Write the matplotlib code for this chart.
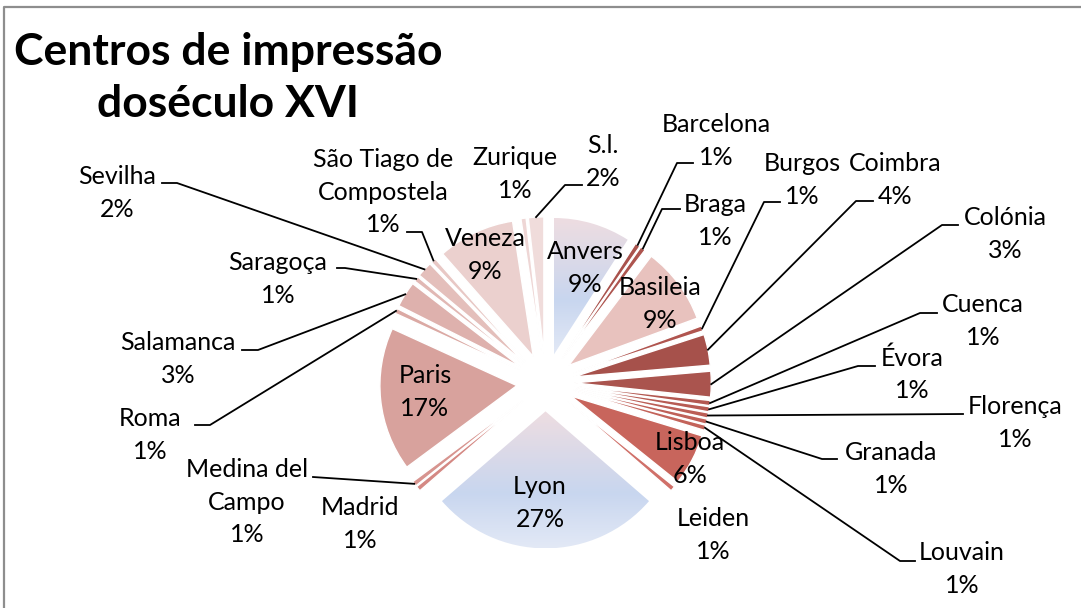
import numpy as np
import matplotlib
matplotlib.use('Agg')
import matplotlib.pyplot as plt
from matplotlib.colors import LinearSegmentedColormap

# data: number of printed works per city (pie order)
cities = ['Anvers', 'Barcelona', 'Braga', 'Basileia', 'Burgos', 'Coimbra', 'Colónia',
          'Cuenca', 'Évora', 'Florença', 'Granada', 'Louvain', 'Lisboa', 'Leiden',
          'Lyon', 'Madrid', 'Medina del\nCampo', 'Paris', 'Roma', 'Salamanca',
          'Saragoça', 'Sevilha', 'São Tiago de\nCompostela', 'Veneza', 'Zurique', 'S.l.']
counts = [15, 1, 1, 15, 1, 6, 5, 1, 1, 1, 1, 1, 10, 1, 45, 1, 1, 28, 1, 5, 1, 3, 1, 15, 1, 3]

colors = ['#d5dcef', '#a9524c', '#ad544e', '#e8c2be', '#b0554f', '#a6514b', '#aa544e',
          '#b35851', '#b75b53', '#bb5e56', '#bf6058', '#c3635a', '#c8655c', '#d07069',
          '#d5dcef', '#d48883', '#d7948f', '#d8a29d', '#dba9a4', '#deb1ad',
          '#e1b8b4', '#e4bfbb', '#e8c8c5', '#ebd0ce', '#eed6d5', '#f0dcdb']
gradient_slices = ['Anvers', 'Lyon']

# label placement in pixels (centre of text block) and leader line points
label_pos = {
    'Anvers': (585, 268), 'Barcelona': (716, 141), 'Braga': (715, 221),
    'Basileia': (660, 304), 'Burgos': (802, 180), 'Coimbra': (895, 180),
    'Colónia': (1005, 234), 'Cuenca': (983, 321), 'Évora': (912, 374),
    'Florença': (1015, 423), 'Granada': (891, 469), 'Louvain': (962, 569),
    'Lisboa': (690, 459), 'Leiden': (713, 535), 'Lyon': (540, 503),
    'Madrid': (360, 524), 'Medina del\nCampo': (247, 502), 'Paris': (425, 392),
    'Roma': (150, 435), 'Salamanca': (178, 359), 'Saragoça': (278, 279),
    'Sevilha': (117, 193), 'São Tiago de\nCompostela': (383, 192),
    'Veneza': (485, 255), 'Zurique': (515, 174), 'S.l.': (603, 162),
}
leaders = {
    'Barcelona': [(693, 163), (677, 163)], 'Braga': [(680, 209), (662, 209)],
    'Burgos': [(780, 202), (764, 202)], 'Coimbra': [(873, 201), (856, 201)],
    'Colónia': [(958, 225), (942, 225)], 'Cuenca': [(937, 313), (920, 313)],
    'Évora': [(875, 366), (858, 366)], 'Florença': [(963, 414)],
    'Granada': [(837, 459), (822, 459)], 'Louvain': [(915, 561), (900, 561)],
    'Medina del\nCampo': [(313, 477)], 'Roma': [(195, 425), (210, 425)],
    'Salamanca': [(242, 350), (258, 350)], 'Saragoça': [(337, 268), (345, 268)],
    'Sevilha': [(162, 183), (177, 183)], 'São Tiago de\nCompostela': [(407, 232), (422, 232)],
    'S.l.': [(582, 185), (565, 185)],
}

W, H = 1081, 608
CX, CY, R = 545.5, 382.6, 137.0   # pie centre and radius in pixels
EXPLODE = 0.21


def px(x, y):
    return ((x - CX) / R, (CY - y) / R)


plt.rcParams['font.family'] = ['Lato', 'DejaVu Sans']

fig = plt.figure(figsize=(W / 100, H / 100), dpi=100)
ax = fig.add_axes([0, 0, 1, 1])

wedges, _ = ax.pie(counts, explode=[EXPLODE] * len(counts), startangle=90,
                   counterclock=False, colors=colors, radius=1,
                   wedgeprops=dict(edgecolor='white', linewidth=1.0))

# gradient fill for Anvers and Lyon (pink top, blue middle, pale bottom)
cmap = LinearSegmentedColormap.from_list('grad', [(0, '#eedde1'), (0.6, '#c8d6ef'), (1, '#e3e9f6')])
for name in gradient_slices:
    w = wedges[cities.index(name)]
    bb = w.get_path().get_extents(w.get_patch_transform())
    grad = np.linspace(0, 1, 256).reshape(-1, 1)
    im = ax.imshow(grad, cmap=cmap, aspect='auto', origin='upper',
                   extent=(bb.x0, bb.x1, bb.y0, bb.y1), zorder=w.get_zorder() + 0.1)
    im.set_clip_path(w)
    w.set_facecolor('none')

total = sum(counts)
for i, (name, c) in enumerate(zip(cities, counts)):
    pct = f"{round(100 * c / total):.0f}%"
    tx, ty = px(*label_pos[name])
    ax.text(tx, ty, f"{name}\n{pct}", ha='center', va='center', fontsize=18,
            linespacing=1.5, color='black', zorder=5)
    if name in leaders:
        w = wedges[i]
        mid = np.deg2rad((w.theta1 + w.theta2) / 2)
        ex = w.center[0] + w.r * np.cos(mid)
        ey = w.center[1] + w.r * np.sin(mid)
        pts = [px(*p) for p in leaders[name]] + [(ex, ey)]
        ax.plot([p[0] for p in pts], [p[1] for p in pts], color='black', lw=1.3, zorder=4)

# title
tx, ty = px(228, 78)
ax.text(tx, ty, 'Centros de impressão\ndoséculo XVI', ha='center', va='center',
        fontsize=32, fontweight='bold', linespacing=1.34, zorder=5)

# chart border (only top and left visible)
ax.plot([px(3.5, 700)[0], px(3.5, 6.5)[0], px(1200, 6.5)[0]],
        [px(3.5, 700)[1], px(3.5, 6.5)[1], px(1200, 6.5)[1]], color='#8e8e8e', lw=1.6, zorder=6)

ax.set_aspect('auto')
ax.set_xlim(px(0, 0)[0], px(W, 0)[0])
ax.set_ylim(px(0, H)[1], px(0, 0)[1])
ax.axis('off')

fig.savefig('out.png', dpi=100)
